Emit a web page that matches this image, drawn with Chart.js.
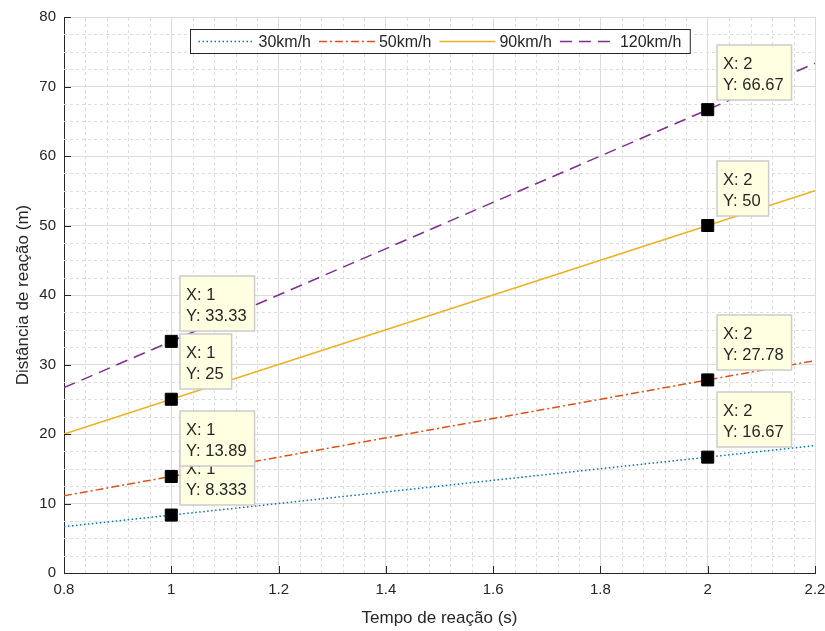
<!DOCTYPE html>
<html>
<head>
<meta charset="utf-8">
<script src="https://cdn.jsdelivr.net/npm/chart.js@4"></script>
<style>
  html, body { margin: 0; padding: 0; background: #fff; }
  #wrap { width: 825px; height: 631px; }
</style>
</head>
<body>
<div id="wrap"><canvas id="grafico"></canvas></div>
<script>
// dados
const tempos = [0.8, 1, 2, 2.2];
const d30 = [6.667, 8.333, 16.67, 18.33];
const d50 = [11.11, 13.89, 27.78, 30.56];
const d90 = [20, 25, 50, 55];
const d120 = [26.67, 33.33, 66.67, 73.33];
const rotulos = ['30km/h', '50km/h', '90km/h', '120km/h'];
const xTicks = [0.8, 1, 1.2, 1.4, 1.6, 1.8, 2, 2.2];
const yTicks = [0, 10, 20, 30, 40, 50, 60, 70, 80];
const pontosMarcados = [1, 2]; // índices com data tip

const cores = ['#0072BD', '#D95319', '#EDB120', '#7E2F8E'];
const tracos = [[1.5, 2.5], [8, 3, 2, 3], [], [12, 7]];
const texto = '#262626';
const fonte = '"Liberation Sans", Arial, sans-serif';

function serie(valores) {
  return tempos.map((t, i) => ({ x: t, y: valores[i] }));
}

function fmt(v) {
  return String(parseFloat(v.toPrecision(4)));
}

const series = [d30, d50, d90, d120];
const datasets = series.map((s, k) => ({
  label: rotulos[k],
  data: serie(s),
  borderColor: cores[k],
  borderWidth: 1.5,
  borderDash: tracos[k],
  fill: false,
  tension: 0,
  pointStyle: 'rect',
  pointRadius: ctx => pontosMarcados.includes(ctx.dataIndex) ? 8.5 : 0,
  pointBackgroundColor: '#000',
  pointBorderColor: '#000',
  pointBorderWidth: 1
}));

// grade secundária tracejada + marcas para dentro
const gradeMenor = {
  id: 'gradeMenor',
  beforeDatasetsDraw(chart) {
    const { ctx, chartArea: a, scales: { x, y } } = chart;
    ctx.save();
    ctx.strokeStyle = '#dcdcdc';
    ctx.lineWidth = 1;
    ctx.setLineDash([3, 3]);
    for (let i = 1; i < 35; i++) {
      if (i % 5 === 0) continue;
      const px = Math.round(x.getPixelForValue(0.8 + i * 0.04)) + 0.5;
      ctx.beginPath(); ctx.moveTo(px, a.bottom); ctx.lineTo(px, a.top); ctx.stroke();
    }
    for (let i = 1; i < 32; i++) {
      if (i % 4 === 0) continue;
      const py = Math.round(y.getPixelForValue(i * 2.5)) + 0.5;
      ctx.beginPath(); ctx.moveTo(a.left, py); ctx.lineTo(a.right, py); ctx.stroke();
    }
    ctx.restore();
  },
  afterDatasetsDraw(chart) {
    const { ctx, chartArea: a, scales: { x, y } } = chart;
    ctx.save();
    ctx.strokeStyle = texto;
    ctx.lineWidth = 1;
    xTicks.forEach(t => {
      const px = Math.round(x.getPixelForValue(t)) + 0.5;
      ctx.beginPath(); ctx.moveTo(px, a.bottom); ctx.lineTo(px, a.bottom - 7); ctx.stroke();
    });
    yTicks.forEach(t => {
      const py = Math.round(y.getPixelForValue(t)) + 0.5;
      ctx.beginPath(); ctx.moveTo(a.left, py); ctx.lineTo(a.left + 7, py); ctx.stroke();
    });
    ctx.restore();
  }
};

// caixas de data tip
const dataTips = {
  id: 'dataTips',
  afterDatasetsDraw(chart) {
    const ctx = chart.ctx;
    ctx.save();
    ctx.font = '16.5px ' + fonte;
    ctx.textBaseline = 'middle';
    chart.data.datasets.forEach((ds, k) => {
      const meta = chart.getDatasetMeta(k);
      pontosMarcados.forEach(i => {
        const p = meta.data[i];
        const l1 = 'X: ' + fmt(ds.data[i].x);
        const l2 = 'Y: ' + fmt(ds.data[i].y);
        const w = Math.max(ctx.measureText(l1).width, ctx.measureText(l2).width) + 14;
        const h = 55;
        const left = Math.round(p.x + 9);
        const top = Math.round(p.y - 10 - h);
        ctx.fillStyle = '#ffffe1';
        ctx.fillRect(left, top, w, h);
        ctx.strokeStyle = '#cccccc';
        ctx.lineWidth = 1.5;
        ctx.strokeRect(left, top, w, h);
        ctx.fillStyle = texto;
        ctx.fillText(l1, left + 6, top + 19);
        ctx.fillText(l2, left + 6, top + 40);
      });
    });
    ctx.restore();
  }
};

// legenda dentro do gráfico, com borda
const legenda = {
  id: 'legenda',
  afterDraw(chart) {
    const { ctx, chartArea: a } = chart;
    ctx.save();
    ctx.font = '16px ' + fonte;
    const amostra = 56;
    const larguras = chart.data.datasets.map(ds => ctx.measureText(ds.label).width);
    const total = larguras.reduce((s, w) => s + 8 + amostra + 4 + w, 0) + 9;
    const h = 24;
    const left = Math.round((a.left + a.right) / 2 - total / 2) + 0.5;
    const top = Math.round(a.top + 12) + 0.5;
    ctx.fillStyle = '#fff';
    ctx.fillRect(left, top, total, h);
    ctx.strokeStyle = texto;
    ctx.lineWidth = 1;
    ctx.strokeRect(left, top, total, h);
    let cx = left + 8;
    const cy = top + h / 2;
    ctx.textBaseline = 'middle';
    chart.data.datasets.forEach((ds, k) => {
      ctx.strokeStyle = ds.borderColor;
      ctx.lineWidth = 1.5;
      ctx.setLineDash(ds.borderDash);
      ctx.beginPath(); ctx.moveTo(cx, cy); ctx.lineTo(cx + amostra, cy); ctx.stroke();
      ctx.setLineDash([]);
      cx += amostra + 4;
      ctx.fillStyle = texto;
      ctx.fillText(ds.label, cx, cy + 1);
      cx += larguras[k] + 8;
    });
    ctx.restore();
  }
};

new Chart(document.getElementById('grafico'), {
  type: 'line',
  data: { datasets },
  plugins: [gradeMenor, dataTips, legenda],
  options: {
    responsive: true,
    maintainAspectRatio: false,
    animation: false,
    events: [],
    layout: { padding: { top: 17, right: 10, left: 0, bottom: 0 } },
    plugins: { legend: { display: false }, tooltip: { enabled: false } },
    scales: {
      x: {
        type: 'linear',
        min: 0.8,
        max: 2.2,
        afterBuildTicks: s => { s.ticks = xTicks.map(v => ({ value: v })); },
        afterFit: s => { s.height = 58; s.paddingRight = 0; s.paddingLeft = 0; },
        ticks: {
          autoSkip: false,
          maxRotation: 0,
          padding: 8,
          color: texto,
          font: { family: fonte, size: 15 },
          callback: v => String(Math.round(v * 10) / 10)
        },
        grid: { color: '#dcdcdc', lineWidth: 1, drawTicks: false },
        border: { color: texto, width: 1 },
        title: {
          display: true,
          text: 'Tempo de reação (s)',
          color: texto,
          font: { family: fonte, size: 17 },
          padding: { top: 0, bottom: 2 }
        }
      },
      y: {
        min: 0,
        max: 80,
        afterBuildTicks: s => { s.ticks = yTicks.map(v => ({ value: v })); },
        afterFit: s => { s.width = 64; s.paddingTop = 0; s.paddingBottom = 0; },
        ticks: {
          autoSkip: false,
          padding: 8,
          color: texto,
          font: { family: fonte, size: 15 }
        },
        grid: { color: '#dcdcdc', lineWidth: 1, drawTicks: false },
        border: { color: texto, width: 1 },
        title: {
          display: true,
          text: 'Distância de reação (m)',
          color: texto,
          font: { family: fonte, size: 17 },
          padding: { top: 13, bottom: 0 }
        }
      }
    }
  }
});
</script>
</body>
</html>
